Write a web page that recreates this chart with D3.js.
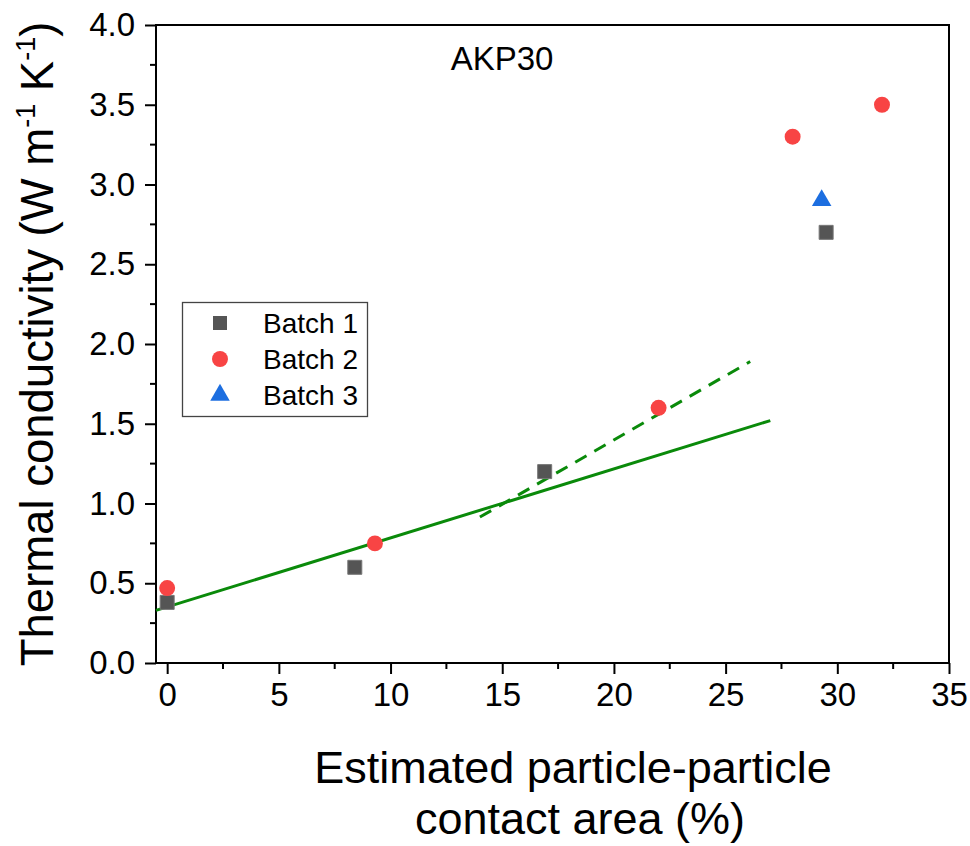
<!DOCTYPE html>
<html>
<head>
<meta charset="utf-8">
<script src="https://cdn.jsdelivr.net/npm/d3@7"></script>
<style>
  html, body { margin: 0; padding: 0; background: #fff; }
  svg { display: block; font-family: "Liberation Sans", Arial, sans-serif; }
</style>
</head>
<body>
<svg id="chart" width="970" height="846"></svg>
<script>
// ---- data ----
const batch1X = [0, 8.4, 16.9, 29.5];
const batch1Y = [0.38, 0.6, 1.2, 2.7];
const batch2X = [0, 9.3, 22, 28, 32];
const batch2Y = [0.47, 0.75, 1.6, 3.3, 3.5];
const batch3X = [29.3];
const batch3Y = [2.9];
const fitSolidX = [-0.5, 27];
const fitSolidY = [0.33, 1.52];
const fitDashX = [14, 26.1];
const fitDashY = [0.915, 1.89];
const xTicks = [0, 5, 10, 15, 20, 25, 30, 35];
const yTicks = [0.0, 0.5, 1.0, 1.5, 2.0, 2.5, 3.0, 3.5, 4.0];
const legendLabels = ["Batch 1", "Batch 2", "Batch 3"];

// ---- layout ----
const svg = d3.select("#chart");
const L = 156, R = 949, T = 25, B = 663;
const x = d3.scaleLinear().domain([-0.5, 35]).range([L, R]);
const y = d3.scaleLinear().domain([0, 4]).range([B, T]);

const cSq = "#555555", cCi = "#f84444", cTr = "#1c6ee0", cFit = "#0a8a0a";
const tickFont = 33;

// frame
svg.append("rect").attr("x", L).attr("y", T).attr("width", R - L).attr("height", B - T)
  .attr("fill", "none").attr("stroke", "#000").attr("stroke-width", 2);

// x axis
const xAxis = d3.axisBottom(x).tickValues(xTicks).tickSize(11).tickPadding(9).tickFormat(d3.format("d"));
const gx = svg.append("g").attr("transform", `translate(0,${B})`).call(xAxis);
gx.select(".domain").remove();
gx.selectAll("line").attr("stroke-width", 2);
gx.selectAll("text").attr("font-size", tickFont).attr("font-family", "Liberation Sans, Arial, sans-serif");
const xMinor = d3.range(2.5, 35, 5);
svg.append("g").selectAll("line").data(xMinor).join("line")
  .attr("x1", d => x(d)).attr("x2", d => x(d)).attr("y1", B).attr("y2", B + 6)
  .attr("stroke", "#000").attr("stroke-width", 2);

// y axis
const yAxis = d3.axisLeft(y).tickValues(yTicks).tickSize(11).tickPadding(10).tickFormat(d3.format(".1f"));
const gy = svg.append("g").attr("transform", `translate(${L},0)`).call(yAxis);
gy.select(".domain").remove();
gy.selectAll("line").attr("stroke-width", 2);
gy.selectAll("text").attr("font-size", tickFont).attr("font-family", "Liberation Sans, Arial, sans-serif");
const yMinor = d3.range(0.25, 4, 0.5);
svg.append("g").selectAll("line").data(yMinor).join("line")
  .attr("x1", L - 6).attr("x2", L).attr("y1", d => y(d)).attr("y2", d => y(d))
  .attr("stroke", "#000").attr("stroke-width", 2);

// fit lines
const line = d3.line().x(d => x(d[0])).y(d => y(d[1]));
svg.append("path").datum(d3.zip(fitSolidX, fitSolidY)).attr("d", line)
  .attr("fill", "none").attr("stroke", cFit).attr("stroke-width", 3);
svg.append("path").datum(d3.zip(fitDashX, fitDashY)).attr("d", line)
  .attr("fill", "none").attr("stroke", cFit).attr("stroke-width", 3).attr("stroke-dasharray", "13,9");

// markers
const sqSym = d3.symbol().type(d3.symbolSquare).size(196);
const ciSym = d3.symbol().type(d3.symbolCircle).size(200);
const trSym = d3.symbol().type(d3.symbolTriangle).size(165);

svg.append("g").selectAll("path").data(d3.zip(batch1X, batch1Y)).join("path")
  .attr("d", sqSym).attr("transform", d => `translate(${x(d[0])},${y(d[1])})`)
  .attr("fill", cSq).attr("stroke", "#777").attr("stroke-width", 1);
svg.append("g").selectAll("path").data(d3.zip(batch2X, batch2Y)).join("path")
  .attr("d", ciSym).attr("transform", d => `translate(${x(d[0])},${y(d[1])})`)
  .attr("fill", cCi);
svg.append("g").selectAll("path").data(d3.zip(batch3X, batch3Y)).join("path")
  .attr("d", trSym).attr("transform", d => `translate(${x(d[0])},${y(d[1])})`)
  .attr("fill", cTr);

// annotation
svg.append("text").attr("x", 502).attr("y", 70).attr("text-anchor", "middle")
  .attr("font-size", 33).text("AKP30");

// legend
const lg = svg.append("g");
lg.append("rect").attr("x", 182.5).attr("y", 302.5).attr("width", 185).attr("height", 114)
  .attr("fill", "#fff").attr("stroke", "#444").attr("stroke-width", 1.3);
const legendSyms = [[sqSym, cSq], [ciSym, cCi], [trSym, cTr]];
legendLabels.forEach((lab, i) => {
  const cy = 323 + i * 36;
  lg.append("path").attr("d", legendSyms[i][0]).attr("transform", `translate(220,${cy})`)
    .attr("fill", legendSyms[i][1]);
  lg.append("text").attr("x", 263).attr("y", cy + 10).attr("font-size", 28).text(lab);
});

// axis titles
svg.append("text").attr("x", 573).attr("y", 783).attr("text-anchor", "middle")
  .attr("font-size", 45).text("Estimated particle-particle");
svg.append("text").attr("x", 580).attr("y", 834).attr("text-anchor", "middle")
  .attr("font-size", 45).text("contact area (%)");

const yt = svg.append("text").attr("transform", "translate(53,344) rotate(-90)")
  .attr("text-anchor", "middle").attr("font-size", 45.5);
yt.append("tspan").text("Thermal conductivity (W m");
yt.append("tspan").attr("font-size", 27).attr("dy", -18).text("-1");
yt.append("tspan").attr("dy", 18).text(" K");
yt.append("tspan").attr("font-size", 27).attr("dy", -18).text("-1");
yt.append("tspan").attr("dy", 18).text(")");
</script>
</body>
</html>
